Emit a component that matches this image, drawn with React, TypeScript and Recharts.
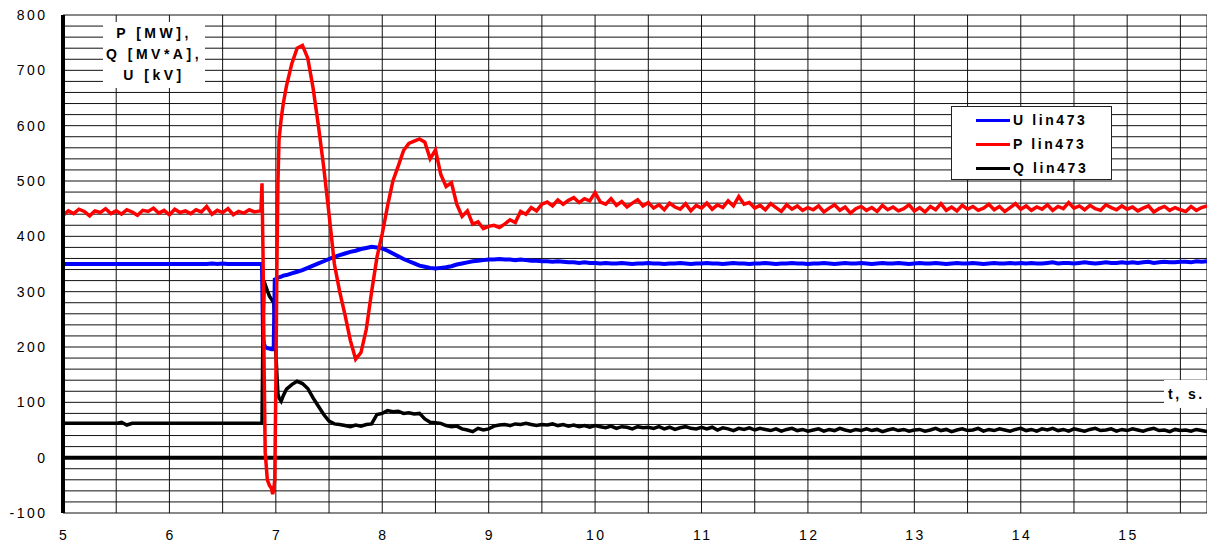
import React from "react"
import { LineChart, Line, XAxis, YAxis, CartesianGrid, ReferenceLine, Legend } from "recharts"

// sample times, s
const time = [
  5, 5.05, 5.1, 5.15, 5.2, 5.25, 5.3, 5.35, 5.4, 5.45, 5.5, 5.55, 5.6, 5.65, 5.7, 5.75, 5.8, 5.85, 5.9, 5.95,
  6, 6.05, 6.1, 6.15, 6.2, 6.25, 6.3, 6.35, 6.4, 6.45, 6.5, 6.55, 6.6, 6.65, 6.7, 6.75, 6.8, 6.85,
  6.86, 6.87, 6.88, 6.89, 6.9, 6.92, 6.94, 6.96, 6.97, 6.98, 6.99, 7, 7.01, 7.02, 7.03, 7.05, 7.07, 7.1,
  7.15, 7.2, 7.25, 7.3, 7.35, 7.4, 7.45, 7.5, 7.55, 7.6, 7.65, 7.7, 7.75, 7.8, 7.85, 7.9, 7.95,
  8, 8.05, 8.1, 8.15, 8.2, 8.25, 8.3, 8.35, 8.4, 8.45, 8.5, 8.55, 8.6, 8.65, 8.7, 8.75, 8.8, 8.85, 8.9, 8.95, 9,
  9.05, 9.1, 9.15, 9.2, 9.25, 9.3, 9.35, 9.4, 9.45, 9.5, 9.55, 9.6, 9.65, 9.7, 9.75, 9.8, 9.85, 9.9, 9.95,
  10, 10.05, 10.1, 10.15, 10.2, 10.25, 10.3, 10.35, 10.4, 10.45, 10.5, 10.55, 10.6, 10.65, 10.7, 10.75, 10.8, 10.85, 10.9, 10.95,
  11, 11.05, 11.1, 11.15, 11.2, 11.25, 11.3, 11.35, 11.4, 11.45, 11.5, 11.55, 11.6, 11.65, 11.7, 11.75, 11.8, 11.85, 11.9, 11.95,
  12, 12.05, 12.1, 12.15, 12.2, 12.25, 12.3, 12.35, 12.4, 12.45, 12.5, 12.55, 12.6, 12.65, 12.7, 12.75, 12.8, 12.85, 12.9, 12.95,
  13, 13.05, 13.1, 13.15, 13.2, 13.25, 13.3, 13.35, 13.4, 13.45, 13.5, 13.55, 13.6, 13.65, 13.7, 13.75, 13.8, 13.85, 13.9, 13.95,
  14, 14.05, 14.1, 14.15, 14.2, 14.25, 14.3, 14.35, 14.4, 14.45, 14.5, 14.55, 14.6, 14.65, 14.7, 14.75, 14.8, 14.85, 14.9, 14.95,
  15, 15.05, 15.1, 15.15, 15.2, 15.25, 15.3, 15.35, 15.4, 15.45, 15.5, 15.55, 15.6, 15.65, 15.7, 15.75,
]

// U lin473, kV
const uLin = [
  350, 350, 350, 350, 350, 350, 350, 350, 350, 350, 350, 350, 350, 350, 350, 350, 350, 350, 350, 350,
  350, 350, 350, 350, 350, 350, 350, 350, 351, 350, 351, 350, 350, 350, 350, 350, 350, 350,
  350, 348, 215, 205, 200, 198, 197, 196, 196, 199, 322, 323, 324, 325, 326, 327, 329, 330,
  333, 336, 339, 343, 347, 351, 355, 359, 363, 366, 369, 372, 374, 377, 379, 381, 380,
  378, 374, 369, 364, 359, 355, 351, 347, 345, 343, 342, 343, 344, 346, 349, 351, 353, 355, 356, 357, 358,
  358, 359, 358, 358, 357, 358, 357, 356, 356, 355, 355, 354, 355, 354, 353, 353, 352, 353, 352,
  352, 351, 352, 351, 351, 352, 351, 350, 351, 351, 352, 351, 351, 350, 351, 351, 352, 351, 350, 351,
  351, 352, 351, 351, 350, 351, 352, 351, 351, 350, 351, 351, 352, 351, 350, 351, 351, 352, 351, 351,
  350, 351, 351, 352, 351, 350, 351, 352, 351, 351, 352, 351, 350, 351, 352, 351, 351, 352, 351, 350,
  351, 352, 351, 351, 352, 351, 350, 351, 352, 351, 351, 352, 351, 350, 351, 352, 351, 351, 352, 351,
  352, 351, 352, 351, 351, 352, 353, 351, 352, 352, 351, 352, 353, 352, 351, 352, 353, 352, 352, 353,
  352, 353, 352, 353, 354, 352, 353, 354, 353, 353, 354, 354, 353, 355, 354, 355,
]

// P lin473, MW
const pLin = [
  438, 446, 441, 449, 445, 437, 446, 443, 450, 441, 446, 440, 448, 444, 438, 447, 445, 451, 442, 447,
  439, 449, 443, 446, 441, 448, 444, 454, 440, 447, 443, 450, 439, 445, 442, 448, 444, 446,
  446, 496, 360, 160, 10, -40, -50, -56, -66, -58, -40, 130, 350, 500, 575, 612, 640, 672,
  712, 740, 745, 722, 668, 600, 525, 440, 350, 300, 258, 212, 178, 190, 232, 300, 362,
  405, 455, 500, 527, 555, 568, 572, 576, 570, 540, 556, 512, 490, 497, 458, 436, 446, 422, 426, 414, 418,
  420, 416, 422, 430, 425, 445, 440, 452, 446, 458, 462, 455, 466, 458, 465, 470, 461, 468, 464,
  479, 462, 458, 468, 456, 463, 453, 460, 466, 455, 461, 451, 457, 448, 460, 453, 449, 459, 446, 456,
  451, 460, 449, 457, 452, 464, 455, 472, 458, 461, 451, 456, 448, 459, 452, 445, 457, 449, 455, 447,
  452, 448, 455, 444, 451, 457, 447, 453, 442, 450, 454, 447, 452, 445, 456, 448, 453, 446, 450, 457,
  446, 452, 444, 454, 448, 459, 447, 453, 446, 456, 449, 454, 447, 451, 458, 448, 454, 445, 452, 459,
  449, 455, 447, 453, 449, 457, 447, 454, 450, 461, 451, 455, 448, 456, 450, 447, 457, 452, 448, 455,
  449, 453, 446, 451, 455, 444, 450, 454, 447, 452, 448, 445, 454, 447, 452, 455,
]

// Q lin473, MV*A
const qLin = [
  62, 62, 62, 62, 62, 62, 62, 62, 62, 62, 62, 64, 59, 62, 62, 62, 62, 62, 62, 62,
  62, 62, 62, 62, 62, 62, 62, 62, 62, 62, 62, 62, 62, 62, 62, 62, 62, 62,
  62, 62, 250, 310, 313, 302, 292, 286, 283, 282, 250, 190, 150, 115, 108, 102, 112, 124,
  132, 138, 134, 125, 108, 93, 78, 66, 61, 60, 58, 56, 59, 57, 60, 61, 78,
  80, 85, 83, 84, 80, 81, 79, 80, 70, 64, 63, 62, 58, 56, 57, 52, 50, 47, 53, 50, 52,
  57, 59, 60, 58, 61, 60, 62, 60, 58, 60, 59, 61, 58, 60, 57, 59, 56, 58, 55,
  58, 56, 54, 57, 53, 56, 55, 52, 56, 54, 55, 53, 56, 52, 55, 51, 54, 56, 53, 52,
  55, 52, 55, 50, 54, 52, 49, 53, 51, 54, 50, 53, 51, 49, 52, 48, 51, 53, 49, 51,
  48, 50, 52, 48, 51, 49, 53, 50, 48, 51, 49, 52, 49, 51, 47, 50, 52, 49, 51, 48,
  50, 51, 48, 50, 53, 49, 51, 47, 50, 52, 49, 50, 53, 48, 51, 49, 52, 50, 48, 51,
  53, 49, 51, 48, 52, 50, 53, 49, 51, 48, 52, 50, 48, 51, 53, 49, 50, 52, 48, 51,
  49, 52, 50, 48, 51, 53, 49, 50, 47, 51, 49, 50, 48, 51, 49, 47,
]

const xTicks = [5, 5.5, 6, 6.5, 7, 7.5, 8, 8.5, 9, 9.5, 10, 10.5, 11, 11.5, 12, 12.5, 13, 13.5, 14, 14.5, 15, 15.5]
const yTicks = [
  -100, -80, -60, -40, -20, 0, 20, 40, 60, 80, 100, 120, 140, 160, 180, 200, 220, 240, 260, 280, 300,
  320, 340, 360, 380, 400, 420, 440, 460, 480, 500, 520, 540, 560, 580, 600, 620, 640, 660, 680, 700,
  720, 740, 760, 780, 800,
]

const SERIES = [
  { key: "u", name: "U lin473", color: "#0000ff" },
  { key: "p", name: "P lin473", color: "#ff0000" },
  { key: "q", name: "Q lin473", color: "#000000" },
]

const FONT = '"Liberation Sans", Arial, sans-serif'

const chartData = time.map((t, i) => ({ t, u: uLin[i], p: pLin[i], q: qLin[i] }))

function YTick({ y, payload }: any) {
  if (payload.value % 100 !== 0) return <g />
  return (
    <text x={47.5} y={y} dy={5} textAnchor="end" fontFamily={FONT} fontSize={14} letterSpacing={2.5} fill="#000">
      {payload.value}
    </text>
  )
}

function XTick({ x, payload }: any) {
  if (!Number.isInteger(payload.value)) return <g />
  return (
    <text x={x + 1.25} y={540} textAnchor="middle" fontFamily={FONT} fontSize={14} letterSpacing={2.5} fill="#000">
      {payload.value}
    </text>
  )
}

function LegendBox() {
  return (
    <div style={{ position: "relative", width: 159, height: 72, border: "1px solid #222", background: "#fff" }}>
      {SERIES.map((s, i) => (
        <div key={s.key} style={{ position: "absolute", left: 24, top: 3 + i * 24, height: 20, display: "flex", alignItems: "center" }}>
          <div style={{ width: 34, height: 3, background: s.color }} />
          <span style={{ marginLeft: 3, fontFamily: FONT, fontWeight: "bold", fontSize: 14, letterSpacing: 2.6, color: "#000" }}>
            {s.name}
          </span>
        </div>
      ))}
    </div>
  )
}

const boldText = { fontFamily: FONT, fontWeight: "bold" as const, fontSize: 14, color: "#000" }

export default function App() {
  return (
    <div style={{ position: "absolute", left: 0, top: 0, width: 1207, height: 545, background: "#fff" }}>
      <LineChart width={1207} height={545} data={chartData} margin={{ top: 15, right: 0, bottom: 0, left: 0 }}>
        <CartesianGrid stroke="#111" strokeWidth={1} />
        <XAxis
          dataKey="t"
          type="number"
          domain={[5, 15.75]}
          ticks={xTicks}
          interval={0}
          allowDataOverflow
          height={32}
          tickLine={false}
          axisLine={false}
          tick={<XTick />}
        />
        <YAxis
          type="number"
          domain={[-100, 800]}
          ticks={yTicks}
          interval={0}
          width={63}
          tickLine={false}
          axisLine={{ stroke: "#000", strokeWidth: 4 }}
          tick={<YTick />}
        />
        <ReferenceLine y={0} stroke="#000" strokeWidth={4} />
        <Line type="linear" dataKey="q" name="Q lin473" stroke="#000000" strokeWidth={3.5} dot={false} isAnimationActive={false} />
        <Line type="linear" dataKey="u" name="U lin473" stroke="#0000ff" strokeWidth={4} dot={false} isAnimationActive={false} />
        <Line type="linear" dataKey="p" name="P lin473" stroke="#ff0000" strokeWidth={3.5} dot={false} isAnimationActive={false} />
        <Legend
          layout="horizontal"
          verticalAlign="middle"
          align="center"
          wrapperStyle={{ left: 951, top: 106, width: 161, height: 74 }}
          content={<LegendBox />}
        />
      </LineChart>

      {/* axis caption box */}
      <div
        style={{
          position: "absolute", left: 103, top: 22, width: 102, height: 66, background: "#fff",
          textAlign: "center", lineHeight: "21px", paddingTop: 1, boxSizing: "border-box", letterSpacing: 3.5, ...boldText,
        }}
      >
        <div>P [MW],</div>
        <div>Q [MV*A],</div>
        <div>U [kV]</div>
      </div>

      {/* time axis caption */}
      <div
        style={{
          position: "absolute", left: 1164, top: 380, width: 43, height: 28, background: "#fff",
          lineHeight: "28px", paddingLeft: 4, boxSizing: "border-box", letterSpacing: 2.5, ...boldText,
        }}
      >
        t, s.
      </div>
    </div>
  )
}
